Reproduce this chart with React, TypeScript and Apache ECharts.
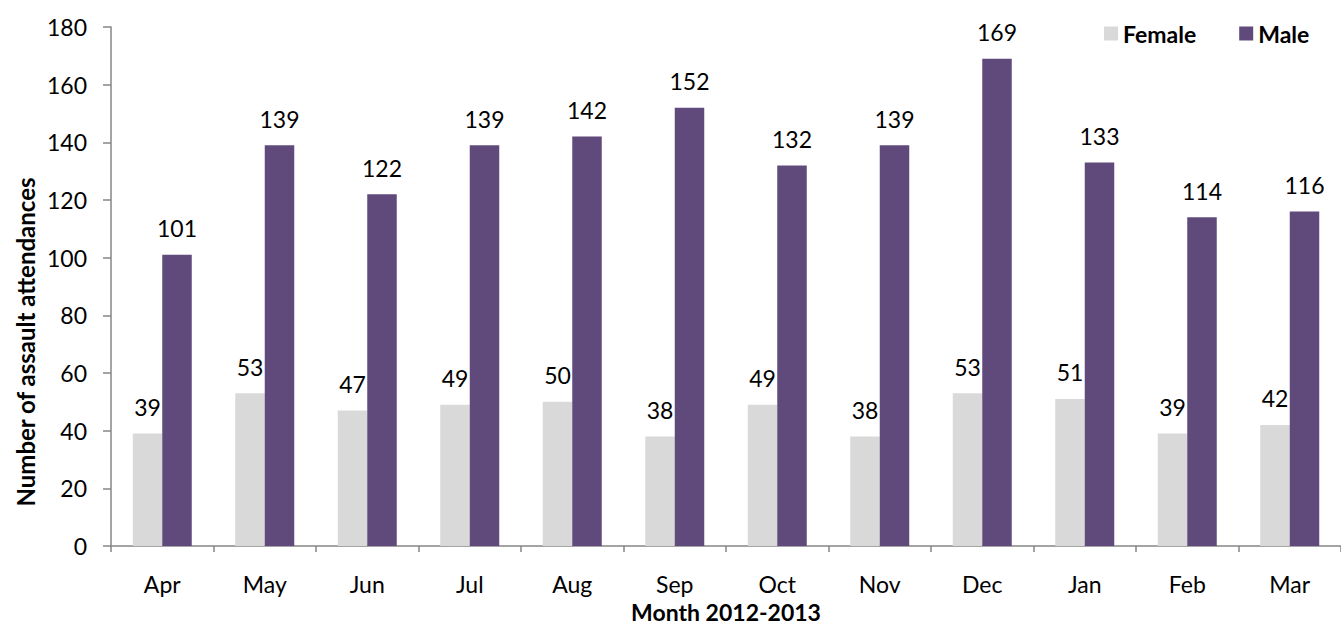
import React, { useEffect, useRef } from "react";
import * as echarts from "echarts";

const months = ["Apr", "May", "Jun", "Jul", "Aug", "Sep", "Oct", "Nov", "Dec", "Jan", "Feb", "Mar"];
const female = [39, 53, 47, 49, 50, 38, 49, 38, 53, 51, 39, 42];
const male = [101, 139, 122, 139, 142, 152, 132, 139, 169, 133, 114, 116];
const yTicks = { min: 0, max: 180, interval: 20 };
const xTitle = "Month 2012-2013";
const yTitle = "Number of assault attendances";

const FONT = "Lato, 'Open Sans', sans-serif";
const AXIS_COLOR = "#868686";

export default function App() {
  const ref = useRef<HTMLDivElement>(null);
  useEffect(() => {
    if (!ref.current) return;
    const chart = echarts.init(ref.current, undefined, { renderer: "svg" });
    const labelStyle = {
      show: true,
      position: "top" as const,
      distance: 15,
      fontSize: 23,
      fontFamily: FONT,
      color: "#000",
    };
    chart.setOption({
      animation: false,
      backgroundColor: "#fff",
      textStyle: { fontFamily: FONT },
      legend: {
        left: 1099,
        top: 17,
        icon: "rect",
        itemWidth: 14,
        itemHeight: 14,
        itemGap: 43,
        textStyle: { fontSize: 23, fontWeight: "bold", color: "#000", fontFamily: FONT },
        data: ["Female", "Male"],
      },
      grid: { left: 111, top: 27, width: 1237, height: 520, containLabel: false },
      xAxis: {
        type: "category",
        data: months,
        boundaryGap: true,
        name: xTitle,
        nameLocation: "middle",
        nameGap: 54,
        nameTextStyle: { fontSize: 23, fontWeight: "bold", color: "#000", fontFamily: FONT },
        axisLine: { lineStyle: { color: AXIS_COLOR, width: 1.5 } },
        axisTick: { show: true, alignWithLabel: false, length: 6, lineStyle: { color: AXIS_COLOR, width: 1.5 } },
        axisLabel: { fontSize: 23, color: "#000", margin: 26, fontFamily: FONT },
        splitLine: { show: false },
      },
      yAxis: {
        type: "value",
        min: yTicks.min,
        max: yTicks.max,
        interval: yTicks.interval,
        axisLine: { show: true, lineStyle: { color: AXIS_COLOR, width: 1.5 } },
        axisTick: { show: true, length: 8, lineStyle: { color: AXIS_COLOR, width: 1.5 } },
        axisLabel: { fontSize: 23, color: "#000", margin: 24, fontFamily: FONT },
        splitLine: { show: false },
      },
      graphic: [
        {
          type: "text",
          x: 25,
          y: 342,
          rotation: Math.PI / 2,
          style: {
            text: yTitle,
            fontSize: 24,
            fontWeight: "bold",
            fontFamily: FONT,
            fill: "#000",
            textAlign: "center",
            textVerticalAlign: "middle",
          },
        },
      ],
      series: [
        {
          name: "Female",
          type: "bar",
          data: female,
          barWidth: 29.5,
          barGap: "0%",
          itemStyle: { color: "#d9d9d9" },
          label: labelStyle,
        },
        {
          name: "Male",
          type: "bar",
          data: male,
          barWidth: 29.5,
          barGap: "0%",
          itemStyle: { color: "#604a7b" },
          label: labelStyle,
        },
      ],
    });
    return () => chart.dispose();
  }, []);
  return (
    <div
      ref={ref}
      style={{ position: "fixed", left: 0, top: 0, width: 1341, height: 628, overflow: "hidden" }}
    />
  );
}
